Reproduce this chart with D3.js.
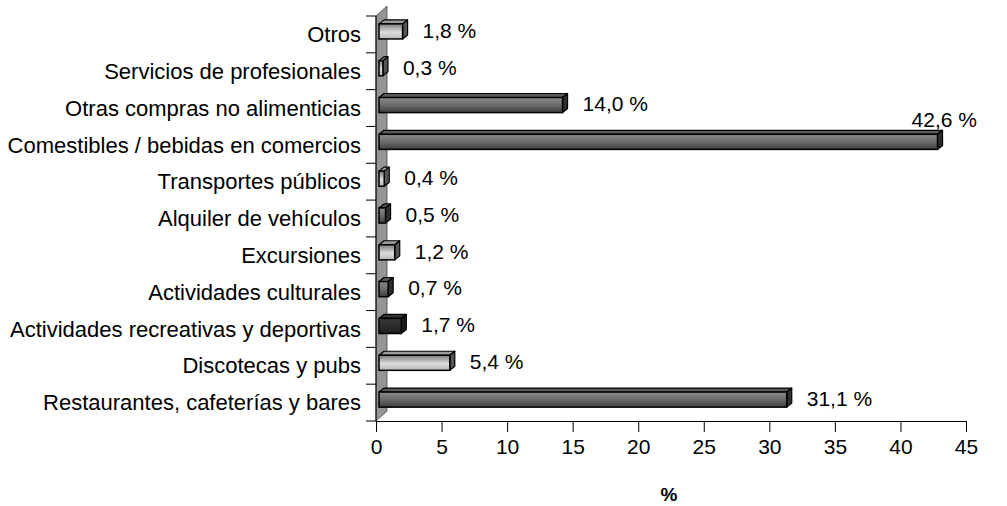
<!DOCTYPE html>
<html>
<head>
<meta charset="utf-8">
<script src="https://cdn.jsdelivr.net/npm/d3@7"></script>
<style>
  body { margin: 0; background: #fff; }
  svg { display: block; }
  text { font-family: "Liberation Sans", Arial, sans-serif; fill: #000; }
</style>
</head>
<body>
<svg width="1007" height="506"></svg>
<script>
// Data (top to bottom as drawn)
var categories = [
  "Otros",
  "Servicios de profesionales",
  "Otras compras no alimenticias",
  "Comestibles / bebidas en comercios",
  "Transportes públicos",
  "Alquiler de vehículos",
  "Excursiones",
  "Actividades culturales",
  "Actividades recreativas y deportivas",
  "Discotecas y pubs",
  "Restaurantes, cafeterías y bares"
];
var values = [1.8, 0.3, 14.0, 42.6, 0.4, 0.5, 1.2, 0.7, 1.7, 5.4, 31.1];
var xTicks = [0, 5, 10, 15, 20, 25, 30, 35, 40, 45];
var axisTitle = "%";

// fill style per bar (index order)
var shade = ["light", "light", "dark", "dark", "light", "dark", "light", "dark", "black", "light", "dark"];

var svg = d3.select("svg");
var fmt = function(v){ return d3.format(".1f")(v).replace(".", ",") + " %"; };
var fs = 21;

var x = d3.scaleLinear().domain([0, 45]).range([376, 966]);
var y = d3.scaleBand().domain(categories).range([16, 421]).paddingInner(0.59).paddingOuter(0.295);
var step = y.step();

// 3D offsets
var wall = [11, -10], front = [3, -3], back = [8, -7];

// gradients
var defs = svg.append("defs");
function grad(id, stops) {
  var g = defs.append("linearGradient").attr("id", id).attr("x1", 0).attr("y1", 0).attr("x2", 0).attr("y2", 1);
  stops.forEach(function(s){ g.append("stop").attr("offset", s[0]).attr("stop-color", s[1]); });
}
grad("g-light", [[0, "#7a7a7a"], [0.55, "#dcdcdc"], [1, "#b8b8b8"]]);
grad("g-dark", [[0, "#8c8c8c"], [0.5, "#6a6a6a"], [1, "#3e3e3e"]]);
grad("g-black", [[0, "#3a3a3a"], [1, "#1e1e1e"]]);
var topCol = { light: "#9a9a9a", dark: "#5a5a5a", black: "#333" };
var sideCol = { light: "#555", dark: "#2e2e2e", black: "#1a1a1a" };

// back wall
var x0 = x(0), yTop = 16, yBot = 421;
svg.append("path")
  .attr("d", "M" + x0 + "," + yTop + "L" + (x0 + wall[0]) + "," + (yTop + wall[1]) +
             "L" + (x0 + wall[0]) + "," + (yBot + wall[1]) + "L" + x0 + "," + yBot + "Z")
  .attr("fill", "#959595")
  .attr("stroke", "#444")
  .attr("stroke-width", 0.8);

// bars
var bars = svg.append("g").selectAll("g")
  .data(categories)
  .enter().append("g");

bars.each(function(c, i) {
  var g = d3.select(this);
  var v = values[i];
  var h = y.bandwidth();
  var yc = y(c);
  var fx0 = x(0) + front[0], fx1 = x(v) + front[0];
  var fy0 = yc + front[1], fy1 = yc + h + front[1];
  var ddx = back[0] - front[0], ddy = back[1] - front[1];
  // top face
  g.append("path")
    .attr("d", "M" + fx0 + "," + fy0 + "L" + (fx0 + ddx) + "," + (fy0 + ddy) +
               "L" + (fx1 + ddx) + "," + (fy0 + ddy) + "L" + fx1 + "," + fy0 + "Z")
    .attr("fill", topCol[shade[i]]).attr("stroke", "#000").attr("stroke-width", 1.2).attr("stroke-linejoin", "round");
  // right face
  g.append("path")
    .attr("d", "M" + fx1 + "," + fy0 + "L" + (fx1 + ddx) + "," + (fy0 + ddy) +
               "L" + (fx1 + ddx) + "," + (fy1 + ddy) + "L" + fx1 + "," + fy1 + "Z")
    .attr("fill", sideCol[shade[i]]).attr("stroke", "#000").attr("stroke-width", 1.2).attr("stroke-linejoin", "round");
  // front face
  g.append("rect")
    .attr("x", fx0).attr("y", fy0)
    .attr("width", fx1 - fx0).attr("height", h)
    .attr("fill", "url(#g-" + shade[i] + ")")
    .attr("stroke", "#000").attr("stroke-width", 1.5);
});

// data labels: outside end, moved above the bar when it would run off the plot
var labelRight = 977;
svg.append("g").selectAll("text")
  .data(categories)
  .enter().append("text")
    .attr("font-size", fs)
    .text(function(c, i){ return fmt(values[i]); })
    .each(function(c, i) {
      var t = d3.select(this);
      var w = this.getComputedTextLength();
      var lx = x(values[i]) + 23;
      var ly = y(c) + y.bandwidth() / 2 - 4;
      if (lx + w > labelRight) { lx = labelRight - w; ly = y(c) - 18; }
      t.attr("x", lx).attr("y", ly).attr("dy", "0.35em");
    });

// left axis (category)
var la = svg.append("g");
la.append("line").attr("x1", x0).attr("x2", x0).attr("y1", yTop).attr("y2", yBot).attr("stroke", "#000");
la.selectAll("line.tick")
  .data(d3.range(categories.length + 1))
  .enter().append("line").attr("class", "tick")
    .attr("x1", x0 - 10).attr("x2", x0)
    .attr("y1", function(i){ return yTop + i * step; })
    .attr("y2", function(i){ return yTop + i * step; })
    .attr("stroke", "#000");
la.selectAll("text")
  .data(categories)
  .enter().append("text")
    .attr("x", 361)
    .attr("y", function(c){ return y(c) + y.bandwidth() / 2; })
    .attr("dy", "0.35em")
    .attr("text-anchor", "end")
    .attr("font-size", 22)
    .text(function(c){ return c; });

// bottom axis
var ba = svg.append("g")
  .attr("transform", "translate(0," + yBot + ")")
  .call(d3.axisBottom(x).tickValues(xTicks).tickSize(11).tickPadding(7).tickSizeOuter(0));
ba.select(".domain").attr("stroke", "#000");
ba.selectAll(".tick line").attr("stroke", "#000");
ba.selectAll(".tick text").attr("font-size", fs).attr("font-family", "Liberation Sans, Arial, sans-serif").attr("fill", "#000");

svg.append("text")
  .attr("x", 669).attr("y", 501)
  .attr("text-anchor", "middle")
  .attr("font-size", 19).attr("font-weight", "bold")
  .text(axisTitle);
</script>
</body>
</html>
